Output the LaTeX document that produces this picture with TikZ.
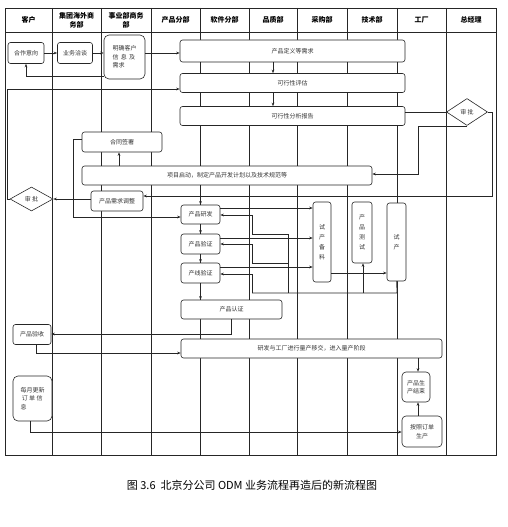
\documentclass[tikz,border=0pt]{standalone}
\usepackage{fontspec}
\setmainfont{Noto Sans CJK SC}
\usetikzlibrary{arrows.meta,shapes.geometric,calc}
\begin{document}
\begin{tikzpicture}[x=1pt,y=-1pt,
  conn/.style={draw=black!85, line width=0.55pt},
  arr/.style={conn, -{Stealth[length=3.5pt,width=2.6pt]}},
  box/.style={draw=black!85, fill=white, line width=0.6pt, rounded corners=2.5pt, inner sep=0pt, align=center, text=black!80, font=\fontsize{6}{8.5}\selectfont},
  dia/.style={draw=black!85, fill=white, line width=0.6pt, diamond, inner sep=0pt, text=black!80, font=\fontsize{6}{7}\selectfont},
  head/.style={font=\bfseries\fontsize{7}{9}\selectfont, align=center, inner sep=0pt},
  grid/.style={draw=black!85, line width=0.6pt}]
\useasboundingbox (0,0) rectangle (508,527);
\fill[white] (0,0) rectangle (508,527);
% frame and lanes
\draw[grid] (5,8) rectangle (496,455);
\draw[grid] (5,32) -- (496,32);
\foreach \x in {52,101,151,200,249,297,347,397,446} \draw[grid] (\x,8) -- (\x,455);
\node[head] (h1) at (28.5,20) {客户};
\node[head] (h2) at (76.5,20) {集团海外商\\务部};
\node[head] (h3) at (126,20) {事业部商务\\部};
\node[head] (h4) at (175.5,20) {产品分部};
\node[head] (h5) at (224.5,20) {软件分部};
\node[head] (h6) at (273,20) {品质部};
\node[head] (h7) at (322,20) {采购部};
\node[head] (h8) at (372,20) {技术部};
\node[head] (h9) at (421.5,20) {工厂};
\node[head] (h10) at (471,20) {总经理};
% connectors drawn under the boxes
\coordinate (b1) at (252,293);
\coordinate (b2) at (397,293);
% nodes
\node[box, minimum width=36, minimum height=21] (hz) at (26,53) {合作意向};
\node[box, minimum width=35, minimum height=21] (yw) at (75,53) {业务洽谈};
\node[box, minimum width=41, minimum height=44, align=left, rounded corners=5pt] (mq) at (124.5,57) {明确客户\\信\ \,息\ \,及\\需求};
\node[box, minimum width=225, minimum height=22] (cpdy) at (292.5,51) {产品定义等需求};
\node[box, minimum width=225, minimum height=19] (kx) at (292.5,83) {可行性评估};
\node[box, minimum width=225, minimum height=19] (kxbg) at (292.5,116) {可行性分析报告};
\node[dia, minimum width=41, minimum height=27] (sp1) at (467,112) {审\ 批};
\node[box, minimum width=80, minimum height=20] (ht) at (122,142) {合同签署};
\node[box, minimum width=290, minimum height=19] (xm) at (227,175.5) {项目启动，制定产品开发计划以及技术规范等};
\node[dia, minimum width=43, minimum height=24] (sp2) at (31.5,199) {审\ 批};
\node[box, minimum width=52, minimum height=20] (tz) at (117,201) {产品需求调整};
\node[box, minimum width=39, minimum height=19] (yf) at (200.5,214.5) {产品研发};
\node[box, minimum width=39, minimum height=20] (yz) at (200.5,244) {产品验证};
\node[box, minimum width=39, minimum height=20] (cx) at (200.5,273) {产线验证};
\node[box, minimum width=18, minimum height=80, font=\fontsize{6}{10}\selectfont] (bl) at (322,242) {试\\产\\备\\料};
\node[box, minimum width=20, minimum height=61, font=\fontsize{6}{10}\selectfont] (cs) at (362,232.5) {产\\品\\测\\试};
\node[box, minimum width=19, minimum height=78, font=\fontsize{6}{10}\selectfont] (sc) at (396.5,242) {试\\产};
\node[box, minimum width=101, minimum height=19] (rz) at (231.5,309.5) {产品认证};
\node[box, minimum width=38, minimum height=20] (ys) at (32,334.5) {产品验收};
\node[box, minimum width=261, minimum height=19] (yj) at (311.5,348.5) {研发与工厂进行量产移交，进入量产阶段};
\node[box, minimum width=39, minimum height=45, rounded corners=5pt, align=left] (mg) at (32.5,398.5) {每月更新\\\ 订\ 单\ 信\\息};
\node[box, minimum width=28, minimum height=30, rounded corners=4pt] (jc) at (416,387) {产品生\\产结束};
\node[box, minimum width=40, minimum height=31, rounded corners=4pt] (ad) at (422,431.5) {按照订单\\生产};
% connectors
\draw[arr] (hz) -- (yw);
\draw[arr] (yw.east) -- (yw.east -| mq.west);
\draw[arr] (mq.east |- yw) -- (cpdy.west |- yw);
\draw[arr] (mq.west |- 0,76) -| (hz.south);
\draw[arr] (cpdy.south -| 273,0) -- (kx.north -| 273,0);
\draw[arr] (kx.south -| 273,0) -- (kxbg.north -| 273,0);
\draw[conn] (kxbg.east |- sp1) -- (sp1.west);
\draw[arr] (sp1.east) -| (492,196) -- (tz.east |- 0,196);
\draw[arr] (sp1.south) -| (418,174) -- (xm.east |- 0,174);
\draw[arr] (tz.west |- sp2) -- (sp2.east);
\draw[arr] (sp2.west) -- (7,199) -- (7,89) -- (kx.west |- 0,89);
\draw[arr] (xm.north -| 119,0) -- (ht.south -| 119,0);
\draw[arr] (ht.west |- 0,139) -- (73,139) -- (73,217) -- (yf.west |- 0,217);
\draw[arr] (xm.south -| yf) -- (yf.north);
\draw[arr] (yf) -- (yz);
\draw[arr] (yz) -- (cx);
\draw[arr] (cx) -- (rz.north -| cx);
\draw[arr] (yf.east |- 0,208) -- (bl.west |- 0,208);
\draw[arr] (yz.east |- 0,238) -- (bl.west |- 0,238);
\draw[arr] (cx.east |- 0,267) -- (bl.west |- 0,267);
\draw[arr] (bl.east |- 0,273) -- (sc.west |- 0,273);
\draw[conn] (sc.south) -- (b2) -- (b1);
\draw[arr] (363,293) -- (cs.south -| 363,0);
\draw[arr] (288,293) -- (288,234) -- (252,234) -- (252,215) -- (yf.east |- 0,215);
\draw[arr] (288,263) -- (252,263) -- (252,244) -- (yz.east |- 0,244);
\draw[arr] (b1) -- (252,274) -- (cx.east |- 0,274);
\draw[arr] (rz.south -| 231,0) -- (231,334) -- (ys.east |- 0,334);
\draw[arr] (ys.south -| 36,0) -- (36,353) -- (yj.west |- 0,353);
\draw[arr] (yj.south -| 418,0) -- (jc.north -| 418,0);
\draw[arr] (ad.north -| 418,0) -- (jc.south -| 418,0);
\draw[arr] (mg.south -| 30,0) -- (30,432) -- (ad.west |- 0,432);
% caption
\node[font=\fontsize{11}{13}\selectfont, inner sep=0pt] (cap) at (252,485) {图 3.6\ \ 北京分公司 ODM 业务流程再造后的新流程图};
\end{tikzpicture}
\end{document}
